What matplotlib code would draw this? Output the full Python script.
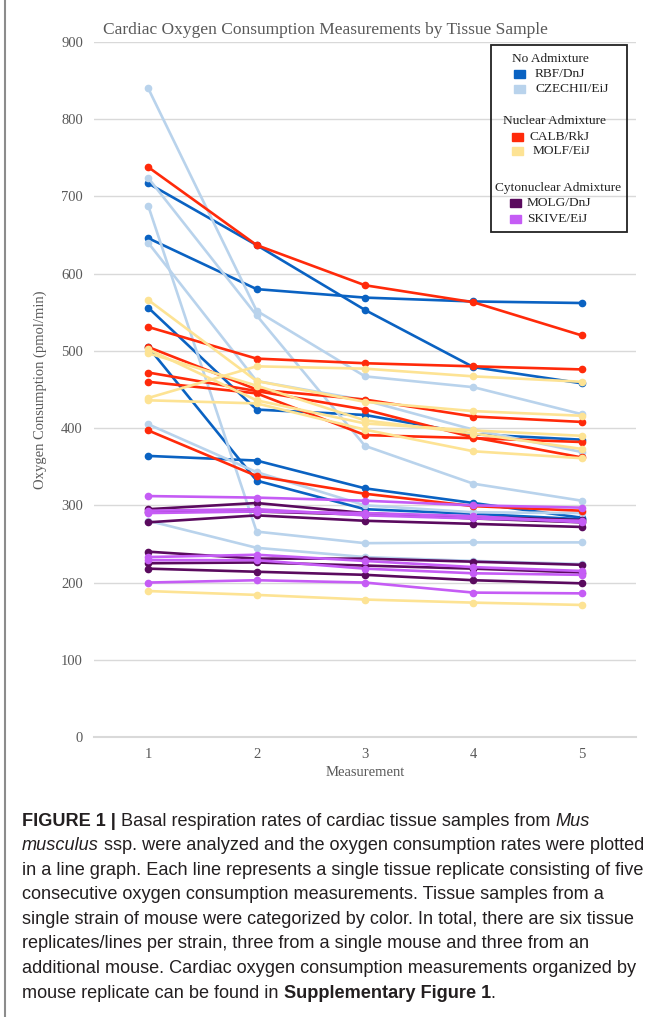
import matplotlib
matplotlib.use('Agg')
import matplotlib.pyplot as plt
from matplotlib.patches import Rectangle
from matplotlib.lines import Line2D

## Data (pmol/min), one list per tissue replicate
measurements = [1, 2, 3, 4, 5]

rbf = [[717, 637, 553, 479, 458],
       [646, 580, 569, 564, 562],
       [556, 424, 417, 392, 385],
       [505, 332, 295, 289, 282],
       [364, 358, 322, 303, 284]]

czechii = [[840, 552, 467, 453, 418],
           [724, 546, 377, 328, 306],
           [688, 266, 251, 252, 252],
           [640, 461, 436, 398, 369],
           [405, 343, 300, 291, 290],
           [280, 245, 233, 228, 224]]

calb = [[738, 637, 585, 563, 520],
        [531, 490, 484, 480, 476],
        [505, 450, 437, 415, 408],
        [472, 448, 424, 388, 362],
        [460, 445, 391, 387, 382],
        [397, 338, 315, 299, 293]]

molf = [[566, 461, 434, 422, 416],
        [502, 436, 406, 397, 390],
        [497, 455, 410, 393, 373],
        [439, 480, 477, 467, 460],
        [436, 432, 398, 370, 361],
        [189, 184, 178, 174, 171]]

molg = [[295, 303, 290, 283, 278],
        [278, 287, 280, 276, 272],
        [240, 231, 231, 227, 223],
        [225, 226, 222, 218, 213],
        [218, 214, 210, 203, 199],
        [292, 292, 288, 285, 281]]

skive = [[312, 310, 306, 300, 297],
         [293, 295, 287, 283, 280],
         [290, 292, 290, 286, 278],
         [233, 236, 228, 220, 215],
         [229, 229, 218, 212, 210],
         [200, 203, 200, 187, 186]]

strains = ['RBF/DnJ', 'CZECHII/EiJ', 'CALB/RkJ', 'MOLF/EiJ', 'MOLG/DnJ', 'SKIVE/EiJ']
groups = ['No Admixture', 'Nuclear Admixture', 'Cytonuclear Admixture']
colors = ['#0a62c2', '#b9d3ec', '#ff2a0a', '#fde394', '#5a0a5e', '#c55cf5']
series = [rbf, czechii, calb, molf, molg, skive]

caption = [
    [('FIGURE 1 |', 'bold', 'normal'), (' Basal respiration rates of cardiac tissue samples from ', 'normal', 'normal'), ('Mus', 'normal', 'italic')],
    [('musculus', 'normal', 'italic'), (' ssp. were analyzed and the oxygen consumption rates were plotted', 'normal', 'normal')],
    [('in a line graph. Each line represents a single tissue replicate consisting of five', 'normal', 'normal')],
    [('consecutive oxygen consumption measurements. Tissue samples from a', 'normal', 'normal')],
    [('single strain of mouse were categorized by color. In total, there are six tissue', 'normal', 'normal')],
    [('replicates/lines per strain, three from a single mouse and three from an', 'normal', 'normal')],
    [('additional mouse. Cardiac oxygen consumption measurements organized by', 'normal', 'normal')],
    [('mouse replicate can be found in ', 'normal', 'normal'), ('Supplementary Figure 1', 'bold', 'normal'), ('.', 'normal', 'normal')],
]

W, H = 654, 1017
fig = plt.figure(figsize=(W / 100, H / 100), dpi=100)

def fx(px):
    return px / W

def fy(py):
    return 1 - py / H

serif = 'Liberation Serif'
grey = '#595959'

## Chart
ax = fig.add_axes([fx(94), fy(737), (636 - 94) / W, (737 - 42) / H])
for data, col in zip(series, colors):
    for rep in data:
        ax.plot(measurements, rep, color=col, lw=1.9, marker='o', ms=4.5,
                solid_capstyle='round')

ax.set_xlim(0.5, 5.5)
ax.set_ylim(0, 900)
ax.set_yticks(range(0, 901, 100))
ax.set_xticks(measurements)
ax.grid(axis='y', color='#d9d9d9', lw=1)
ax.axhline(0, color='#d9d9d9', lw=1.5, clip_on=False, zorder=0)
ax.set_axisbelow(True)
for s in ax.spines.values():
    s.set_visible(False)
ax.tick_params(length=0, labelsize=10.5, labelcolor=grey, pad=8)
for lab in ax.get_xticklabels() + ax.get_yticklabels():
    lab.set_fontfamily(serif)

fig.text(fx(325), fy(30), 'Cardiac Oxygen Consumption Measurements by Tissue Sample',
         ha='center', va='center', fontsize=12.5, family=serif, color=grey)
fig.text(fx(40), fy(390), 'Oxygen Consumption (pmol/min)', rotation=90,
         ha='center', va='center', fontsize=10.5, family=serif, color=grey)
fig.text(fx(365), fy(773), 'Measurement', ha='center', va='center',
         fontsize=10.5, family=serif, color=grey)

## Legend box drawn by hand
fig.patches.append(Rectangle((fx(491), fy(232)), (627 - 491) / W, (232 - 45) / H,
                             transform=fig.transFigure, fill=False, ec='#222222', lw=1.3))
head_pos = [(512, 59), (503, 121), (495, 188)]
item_pos = [(514, 535, 74), (514, 535, 89), (512, 530, 137),
            (512, 533, 151), (510, 527, 203), (510, 527, 219)]
for g, (hx, hy) in zip(groups, head_pos):
    fig.text(fx(hx), fy(hy), g, ha='left', va='center', fontsize=9.6, family=serif, color='#222222')
for name, col, (sx, tx, yy) in zip(strains, colors, item_pos):
    fig.patches.append(Rectangle((fx(sx), fy(yy + 4)), 11 / W, 8 / H,
                                 transform=fig.transFigure, color=col))
    fig.text(fx(tx), fy(yy), name, ha='left', va='center', fontsize=9.6, family=serif, color='#222222')

## left frame line
fig.add_artist(Line2D([fx(5), fx(5)], [0, 1], transform=fig.transFigure, color='#8c8c8c', lw=1.5))

## Caption, drawn piece by piece so bold/italic can sit in the line
renderer = fig.canvas.get_renderer()
cap_font = dict(family='Liberation Sans', fontsize=13.05, color='#231f20')

def seg_width(txt, weight, style):
    t1 = fig.text(0, 0, 'x' + txt + 'x', weight=weight, style=style, **cap_font)
    t2 = fig.text(0, 0, 'xx', weight=weight, style=style, **cap_font)
    w = t1.get_window_extent(renderer).width - t2.get_window_extent(renderer).width
    t1.remove()
    t2.remove()
    return w

for i, line in enumerate(caption):
    x = 22
    y = 821 + i * 24.6
    for txt, weight, style in line:
        fig.text(fx(x), fy(y), txt, ha='left', va='center', weight=weight, style=style, **cap_font)
        x += seg_width(txt, weight, style)

fig.savefig('out.png', dpi=100)
